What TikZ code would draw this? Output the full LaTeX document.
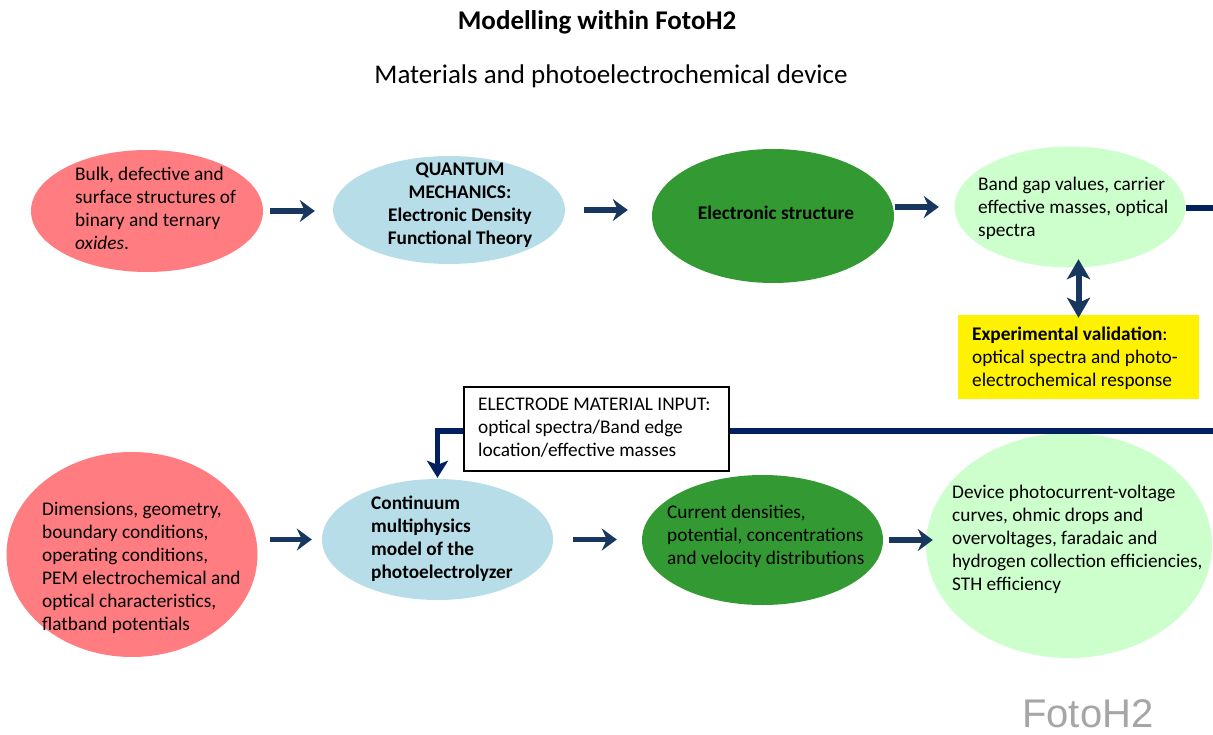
\documentclass[tikz,border=0pt]{standalone}
\usepackage{fontspec}
\setmainfont{Carlito}
\newfontfamily\wmfont{Liberation Sans}
\usetikzlibrary{shapes.geometric,arrows.meta}
\definecolor{cred}{RGB}{255,124,128}
\definecolor{cblue}{RGB}{183,222,232}
\definecolor{cdgreen}{RGB}{51,153,51}
\definecolor{clgreen}{RGB}{204,255,204}
\definecolor{cnavy}{RGB}{23,55,94}
\definecolor{cdnavy}{RGB}{0,32,96}
\definecolor{cwm}{RGB}{166,166,166}
\newcommand{\bodyfont}{\fontsize{19.3}{23}\selectfont}
\newcommand{\titlefont}{\fontsize{27}{31}\selectfont}
\begin{document}
\begin{tikzpicture}[x=1pt,y=-1pt,
  blob/.style={ellipse, draw=none, inner sep=0pt},
  txt/.style={inner sep=0pt, anchor=north west, align=left, font=\bodyfont},
  ctxt/.style={inner sep=0pt, anchor=north, align=center, font=\bodyfont\bfseries},
  flow/.style={draw=cnavy, line width=5.5pt, -{Stealth[length=15pt,width=22pt,inset=5pt]}},
  dbl/.style={draw=cnavy, line width=6pt, {Stealth[length=20pt,width=23pt,inset=5pt]}-{Stealth[length=20pt,width=23pt,inset=5pt]}},
  navyline/.style={draw=cdnavy, line width=5.5pt},
  downarr/.style={draw=cdnavy, line width=5.5pt, -{Stealth[length=17pt,width=21pt,inset=4pt]}}
]
\fill[white] (0,0) rectangle (1213,735);
\useasboundingbox (0,0) rectangle (1213,735);

% titles
\node[inner sep=0pt, anchor=base, font=\titlefont\bfseries] (title) at (597,30) {Modelling within FotoH2};
\node[inner sep=0pt, anchor=base, font=\titlefont] (subtitle) at (611,84) {Materials and photoelectrochemical device};

% top row shapes
\node[blob, fill=cred, minimum width=232pt, minimum height=122pt] (r1) at (147,211) {};
\node[blob, fill=cblue, minimum width=232pt, minimum height=108pt] (b1) at (449,210) {};
\node[blob, fill=cdgreen, minimum width=242pt, minimum height=134pt] (g1) at (773,216) {};
\node[blob, fill=clgreen, minimum width=231pt, minimum height=121pt] (lg1) at (1070,207) {};
\node[draw=none, fill=yellow, minimum width=241pt, minimum height=84pt, inner sep=0pt] (yb) at (1078.5,357) {};

% bottom row shapes
\node[blob, fill=cred, minimum width=251pt, minimum height=205pt] (r2) at (132,554.5) {};
\node[blob, fill=cblue, minimum width=231pt, minimum height=121pt] (b2) at (437.5,539.5) {};
\node[blob, fill=cdgreen, minimum width=241pt, minimum height=130pt] (g2) at (762.5,540) {};
\node[blob, fill=clgreen, minimum width=286pt, minimum height=225pt] (dev) at (1069,545.5) {};

% edge coordinates
\coordinate (eT) at (1213,208);
\coordinate (eB) at (1213,431);

% connectors
\draw[flow, shorten <=7pt, shorten >=18pt] (r1.east) -- (r1.east -| b1.west);
\draw[flow, shorten <=19pt, shorten >=24pt] (b1.east) -- (b1.east -| g1.west);
\draw[flow, shorten <=1pt, shorten >=15.5pt] (lg1.west -| g1.east) -- (lg1.west);
\draw[navyline] (lg1.east |- eT) -- (eT);
\draw[dbl, shorten <=-3pt, shorten >=-8.5pt] (yb.north) -- (yb.north |- lg1.south);

\draw[flow, shorten <=12.5pt, shorten >=10pt] (b2.west -| r2.east) -- (b2.west);
\draw[flow, shorten <=20pt, shorten >=25pt] (b2.east) -- (b2.east -| g2.west);
\draw[flow, shorten <=6pt, shorten >=-7pt] (g2.east) -- (g2.east -| dev.west);

\node[draw=black, line width=2pt, fill=white, minimum width=265pt, minimum height=84pt, inner sep=0pt] (box) at (596.5,429) {};
\draw[navyline] (eB) -- (eB -| box.east);
\draw[downarr, shorten >=1pt] (box.west |- eB) -| (b2.north);

% texts
\node[txt] (t1) at (75,164) {\strut Bulk, defective and\\surface structures of\\binary and ternary\\\textit{oxides}.};
\node[ctxt] (t2) at (460,159) {\strut QUANTUM\\MECHANICS:\\Electronic Density\\Functional Theory};
\node[inner sep=0pt, anchor=base, font=\bodyfont\bfseries] (t3) at (776,220) {Electronic structure};
\node[txt] (t4) at (978,174) {\strut Band gap values, carrier\\effective masses, optical\\spectra};
\node[txt] (t5) at (972,324) {\strut\textbf{Experimental validation}:\\optical spectra and photo-\\electrochemical response};

\node[txt] (t6) at (478,394) {\strut ELECTRODE MATERIAL INPUT:\\optical spectra/Band edge\\location/effective masses};
\node[txt] (t7) at (42,499) {\strut Dimensions, geometry,\\boundary conditions,\\operating conditions,\\PEM electrochemical and\\optical characteristics,\\flatband potentials};
\node[txt, font=\bodyfont\bfseries] (t8) at (371,493) {\strut Continuum\\multiphysics\\model of the\\photoelectrolyzer};
\node[txt] (t9) at (667,502) {\strut Current densities,\\potential, concentrations\\and velocity distributions};
\node[txt] (t10) at (952,482) {\strut Device photocurrent-voltage\\curves, ohmic drops and\\overvoltages, faradaic and\\hydrogen collection efficiencies,\\STH efficiency};

% watermark
\node[inner sep=0pt, anchor=base west, font=\wmfont\fontsize{40}{40}\selectfont, text=cwm] (wm) at (1022,727) {FotoH2};
\end{tikzpicture}
\end{document}
